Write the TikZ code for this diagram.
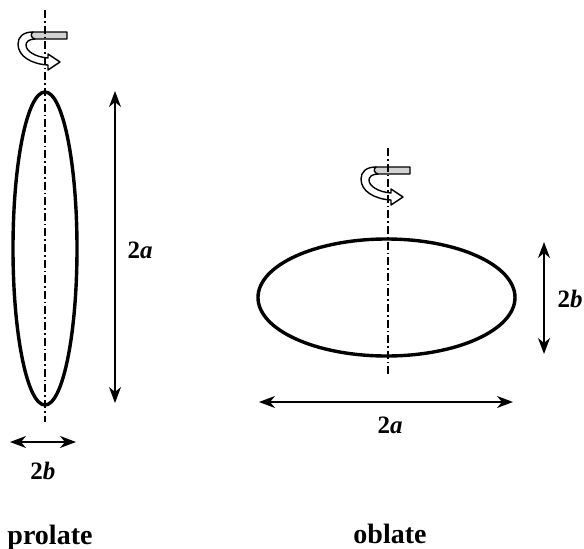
\documentclass[tikz,border=0pt]{standalone}
\usepackage{fontspec}
\setmainfont{Liberation Serif}
\usetikzlibrary{arrows.meta,shapes.geometric}
\begin{document}
\begin{tikzpicture}[x=1pt,y=-1pt,
  bodyshape/.style={draw, ellipse, line width=3.4pt, inner sep=0pt, outer sep=0pt},
  axisstyle/.style={line width=1.9pt, dash pattern=on 8pt off 3pt on 1.6pt off 3pt},
  dimarrow/.style={line width=1.4pt, {Stealth[length=16pt,width=12pt,inset=5pt]}-{Stealth[length=16pt,width=12pt,inset=5pt]}},
  labtext/.style={font=\fontsize{25}{30}\selectfont\bfseries, anchor=base, inner sep=0pt},
  titletext/.style={font=\fontsize{28}{33}\selectfont\bfseries, anchor=base, inner sep=0pt},
  bandfill/.style={fill=gray!35, draw=black, line width=1.4pt, line join=round},
  arrowfill/.style={fill=white, draw=black, line width=1.4pt, line join=round},
  rotsign/.pic={
    \path[arrowfill] (-12,0) .. controls (-22,0) and (-27,5) .. (-27,12) .. controls (-27,24) and (-14,32) .. (3,33) -- (3,38) -- (15,30) -- (3,22) -- (3,26) .. controls (-10,25) and (-19,19) .. (-19,13) .. controls (-19,10) and (-16,7) .. (-10,7) -- cycle;
    \path[bandfill] (22,0) -- (-12,0) .. controls (-15,2) and (-14,6) .. (-10,7) -- (22,7) -- cycle;
  }]
\useasboundingbox (0,0) rectangle (584,549);

% prolate
\node[bodyshape, minimum width=64pt, minimum height=313pt] (pro) at (45,248.5) {};
\pic at (45,32) {rotsign};
\coordinate (pa1) at (45,10);
\coordinate (pa2) at (45,422);
\draw[axisstyle] (pa1) -- (pa2);
\coordinate (pat) at (115,91);
\coordinate (pab) at (115,403);
\draw[dimarrow] (pat) -- (pab);
\coordinate (pbl) at (10,442);
\coordinate (pbr) at (76,442);
\draw[dimarrow] (pbl) -- (pbr);
\node[labtext] (pla) at (140,258) {2\textit{a}};
\node[labtext] (plb) at (43,479) {2\textit{b}};
\node[titletext] (ptitle) at (50,544) {prolate};

% oblate
\node[bodyshape, minimum width=257pt, minimum height=117pt] (obl) at (386.5,297.5) {};
\pic at (388,167) {rotsign};
\coordinate (oa1) at (388,148);
\coordinate (oa2) at (388,374);
\draw[axisstyle] (oa1) -- (oa2);
\coordinate (obt) at (544,242);
\coordinate (obb) at (544,354);
\draw[dimarrow] (obt) -- (obb);
\coordinate (oal) at (259,402);
\coordinate (oar) at (513,402);
\draw[dimarrow] (oal) -- (oar);
\node[labtext] (olb) at (570,307) {2\textit{b}};
\node[labtext] (ola) at (390,433) {2\textit{a}};
\node[titletext] (otitle) at (390,543) {oblate};
\end{tikzpicture}
\end{document}
